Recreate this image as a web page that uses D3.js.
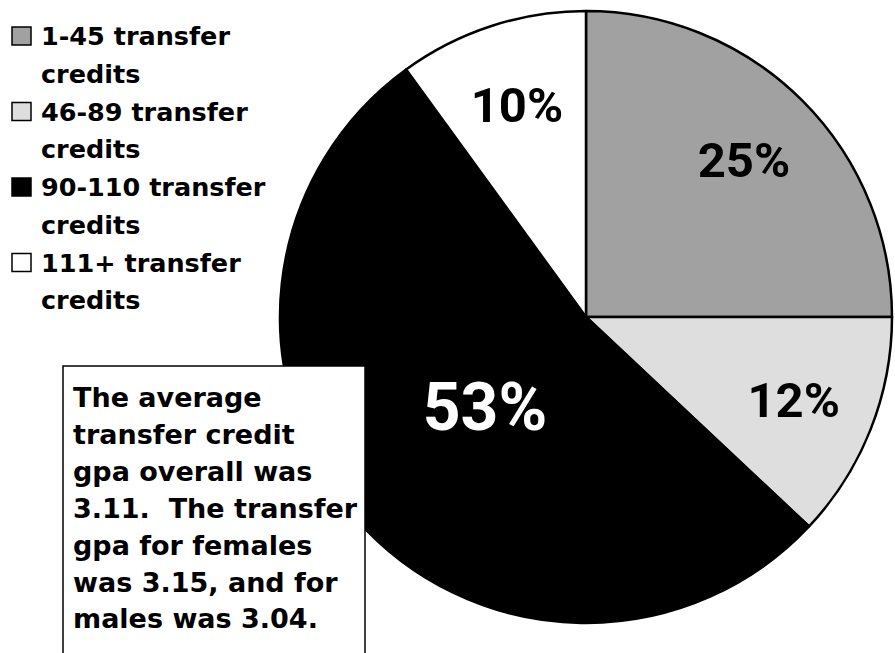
<html>
<script src="https://cdn.jsdelivr.net/npm/d3@7"></script>
<style>
  body { margin: 0; background: white; }
  svg { display: block; }
  text { white-space: pre; }
</style>
<body>
<svg width="895" height="653"></svg>
<script>
// slice data, clockwise from 12 o'clock
const categories = ['1-45 transfer credits', '46-89 transfer credits', '90-110 transfer credits', '111+ transfer credits'];
const shares = [25, 12, 53, 10];
const sliceColors = ['#a1a1a1', '#dedede', '#000000', '#ffffff'];
const labelColors = ['#000000', '#000000', '#ffffff', '#000000'];
// legend entries are wrapped on two lines like the original
const legendLines = [['1-45 transfer', 'credits'], ['46-89 transfer', 'credits'], ['90-110 transfer', 'credits'], ['111+ transfer', 'credits']];
const noteLines = ['The average', 'transfer credit', 'gpa overall was', '3.11.  The transfer', 'gpa for females', 'was 3.15, and for', 'males was 3.04.'];

const svg = d3.select('svg');
const cx = 586, cy = 317, r = 306;

const pie = d3.pie().sort(null).value(d => d)(shares);
const arc = d3.arc().innerRadius(0).outerRadius(r);

const g = svg.append('g').attr('transform', `translate(${cx},${cy})`);

g.selectAll('path')
  .data(pie)
  .enter()
  .append('path')
    .attr('d', arc)
    .attr('fill', (d, i) => sliceColors[i])
    .attr('stroke', 'black')
    .attr('stroke-width', 2.5)
    .attr('stroke-linejoin', 'round');

// labels: big slice sits closer to the middle
g.selectAll('text.pct')
  .data(pie)
  .enter()
  .append('text')
    .attr('class', 'pct')
    .attr('transform', d => {
      const lr = d.value > 50 ? r * 0.44 : r * 0.73;
      const p = d3.arc().innerRadius(lr).outerRadius(lr).centroid(d);
      return `translate(${p[0]},${p[1]})`;
    })
    .attr('text-anchor', 'middle')
    .attr('dy', '0.36em')
    .attr('font-family', 'Roboto, sans-serif')
    .attr('font-weight', 'bold')
    .attr('font-size', d => d.value > 50 ? 66 : 49)
    .attr('fill', (d, i) => labelColors[i])
    .text(d => d.value + '%');

// note box over the lower-left of the pie
svg.append('rect')
  .attr('x', 63).attr('y', 366)
  .attr('width', 302).attr('height', 300)
  .attr('fill', 'white')
  .attr('stroke', 'black')
  .attr('stroke-width', 1.5);

svg.append('g')
  .selectAll('text')
  .data(noteLines)
  .enter()
  .append('text')
    .attr('x', 73)
    .attr('y', (d, i) => 407 + i * 36.9)
    .attr('font-family', 'DejaVu Sans, sans-serif')
    .attr('font-weight', 'bold')
    .attr('font-size', 27)
    .attr('fill', 'black')
    .text(d => d);

// legend
const leg = svg.append('g')
  .selectAll('g')
  .data(categories)
  .enter()
  .append('g')
    .attr('transform', (d, i) => `translate(0,${i * 75.5})`);

leg.append('rect')
  .attr('x', 12).attr('y', 27)
  .attr('width', 19).attr('height', 18)
  .attr('fill', (d, i) => sliceColors[i])
  .attr('stroke', 'black')
  .attr('stroke-width', 1.5);

leg.each(function(d, i) {
  d3.select(this).selectAll('text')
    .data(legendLines[i])
    .enter()
    .append('text')
      .attr('x', 41)
      .attr('y', (t, j) => 45 + j * 37.8)
      .attr('font-family', 'DejaVu Sans, sans-serif')
      .attr('font-weight', 'bold')
      .attr('font-size', 25.5)
      .attr('fill', 'black')
      .text(t => t);
});
</script>
</body>
</html>
